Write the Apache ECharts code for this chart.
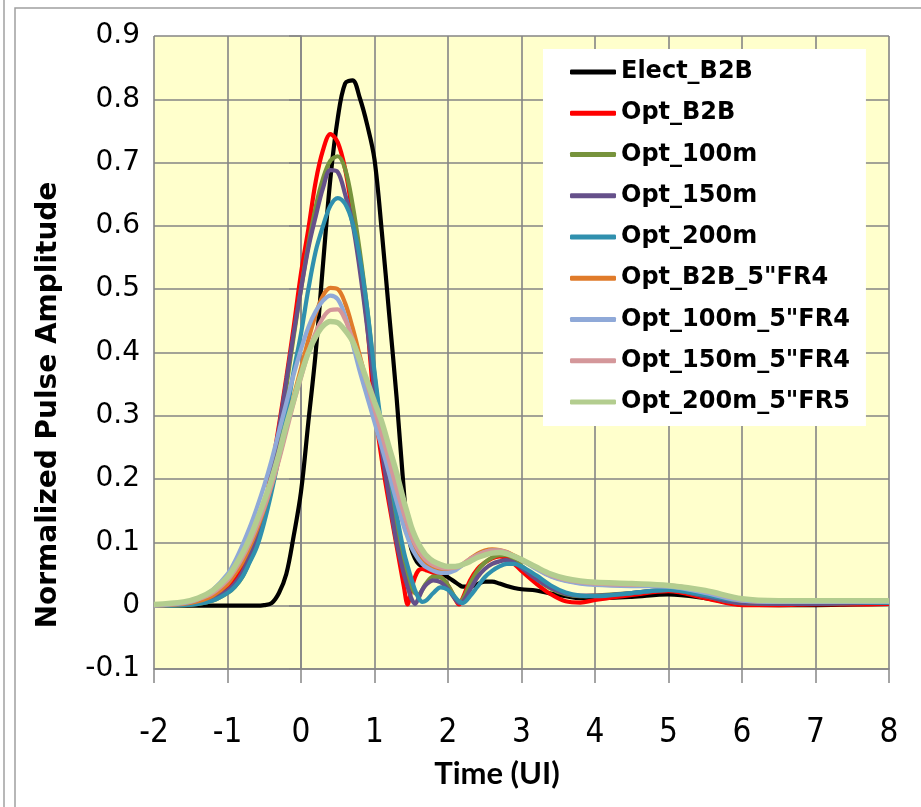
<!DOCTYPE html>
<html><head><meta charset="utf-8">
<script src="https://cdn.jsdelivr.net/npm/echarts@6/dist/echarts.min.js"></script>
<style>html,body{margin:0;padding:0;background:#fff}#c{width:921px;height:807px}</style>
</head><body><div id="c"></div>
<script>
const time = [-2,-1.6,-1.4,-1.2,-1.0,-0.9,-0.8,-0.7,-0.6,-0.5,-0.4,-0.3,-0.2,-0.1,
  0,0.1,0.2,0.3,0.4,0.5,0.6,0.7,0.8,0.9,1.0,1.1,1.2,1.3,1.4,
  1.45,1.5,1.55,1.6,1.65,1.7, 1.8,1.9,2.0,2.1, 2.15,
  2.2,2.3,2.4,2.5,2.6,2.7,2.8,2.9,3.0, 3.2,3.4,3.6,3.8,4.0, 4.5,5.0,5.5,6.0,6.5,7.0,7.5,8.0];

const electB2B = [0,0,0,0,0,0,0,0,0,0.001,0.004,0.02,0.05,0.11,
  0.18,0.29,0.40,0.54,0.675,0.77,0.825,0.83,0.802,0.76,0.705,0.59,0.46,0.33,0.18,
  0.12,0.09,0.075,0.066,0.062,0.059, 0.055,0.05,0.045,0.037, 0.033,
  0.03,0.03,0.034,0.038,0.038,0.035,0.031,0.028,0.026, 0.024,0.019,0.015,0.012,0.012,
  0.014,0.018,0.012,0.002,0.001,0.001,0.002,0.003];
const optB2B = [0,0.002,0.005,0.012,0.028,0.04,0.058,0.085,0.11,0.155,0.215,0.285,0.36,0.44,
  0.525,0.595,0.67,0.72,0.745,0.732,0.69,0.62,0.545,0.445,0.315,0.23,0.16,0.095,0.03,
  0.002,0.025,0.045,0.056,0.058,0.056, 0.052,0.046,0.032,0.01, 0.002,
  0.012,0.04,0.058,0.068,0.075,0.078,0.075,0.066,0.055, 0.035,0.018,0.007,0.005,0.009,
  0.017,0.023,0.012,0.001,0.001,0.002,0.002,0.003];
const opt100m = [0,0.001,0.003,0.008,0.02,0.03,0.045,0.07,0.1,0.145,0.2,0.265,0.345,0.425,
  0.5,0.57,0.63,0.675,0.703,0.71,0.69,0.635,0.56,0.47,0.365,0.265,0.185,0.12,0.068,
  0.047,0.03,0.02,0.018,0.025,0.035, 0.046,0.045,0.032,0.012, 0.006,
  0.01,0.035,0.055,0.068,0.076,0.08,0.08,0.073,0.063, 0.043,0.027,0.018,0.015,0.016,
  0.02,0.025,0.015,0.004,0.003,0.003,0.004,0.005];
const opt150m = [0,0.002,0.004,0.01,0.024,0.035,0.052,0.078,0.11,0.155,0.21,0.28,0.355,0.43,
  0.5,0.565,0.615,0.66,0.688,0.685,0.65,0.605,0.53,0.44,0.34,0.245,0.17,0.1,0.05,
  0.03,0.012,0.003,0.012,0.025,0.033, 0.04,0.037,0.026,0.01, 0.004,
  0.006,0.025,0.045,0.058,0.066,0.07,0.072,0.068,0.06, 0.042,0.028,0.019,0.016,0.016,
  0.02,0.025,0.015,0.004,0.003,0.003,0.004,0.005];
const opt200m = [0,0.001,0.003,0.008,0.02,0.03,0.045,0.068,0.093,0.132,0.18,0.235,0.3,0.37,
  0.43,0.5,0.56,0.6,0.632,0.644,0.635,0.605,0.55,0.47,0.37,0.28,0.215,0.145,0.085,
  0.063,0.043,0.025,0.012,0.006,0.008, 0.02,0.029,0.025,0.013, 0.007,
  0.004,0.015,0.03,0.045,0.055,0.062,0.066,0.066,0.062, 0.048,0.032,0.021,0.016,0.015,
  0.02,0.025,0.017,0.008,0.008,0.009,0.006,0.005];
const optB2B5FR4 = [0,0.003,0.007,0.016,0.034,0.05,0.068,0.092,0.12,0.153,0.19,0.233,0.28,0.33,
  0.375,0.42,0.46,0.49,0.502,0.5,0.478,0.44,0.395,0.35,0.305,0.258,0.212,0.168,0.128,
  0.111,0.097,0.086,0.077,0.07,0.065, 0.058,0.055,0.055,0.058, 0.061,
  0.065,0.074,0.082,0.087,0.089,0.088,0.085,0.079,0.073, 0.059,0.047,0.04,0.036,0.034,
  0.032,0.031,0.021,0.008,0.006,0.007,0.007,0.007];
const opt100m5FR4 = [0,0.004,0.01,0.025,0.05,0.07,0.095,0.123,0.155,0.19,0.23,0.275,0.32,0.365,
  0.405,0.44,0.465,0.482,0.49,0.484,0.458,0.415,0.37,0.33,0.29,0.25,0.208,0.165,0.125,
  0.108,0.093,0.082,0.073,0.066,0.061, 0.055,0.052,0.052,0.056, 0.06,
  0.064,0.073,0.08,0.085,0.087,0.087,0.084,0.078,0.072, 0.058,0.046,0.039,0.035,0.033,
  0.031,0.03,0.02,0.008,0.006,0.006,0.006,0.006];
const opt150m5FR4 = [0.001,0.005,0.01,0.02,0.04,0.056,0.075,0.098,0.125,0.155,0.19,0.23,0.275,0.32,
  0.36,0.4,0.432,0.455,0.467,0.468,0.452,0.422,0.387,0.35,0.31,0.27,0.228,0.185,0.145,
  0.127,0.11,0.097,0.087,0.079,0.072, 0.064,0.06,0.059,0.06, 0.062,
  0.066,0.074,0.08,0.085,0.087,0.087,0.084,0.078,0.072, 0.06,0.048,0.041,0.037,0.035,
  0.033,0.032,0.023,0.01,0.008,0.009,0.008,0.008];
const opt200m5FR5 = [0.002,0.006,0.012,0.024,0.045,0.062,0.082,0.106,0.135,0.166,0.2,0.24,0.285,0.325,
  0.365,0.4,0.425,0.442,0.449,0.447,0.435,0.418,0.388,0.355,0.322,0.29,0.25,0.21,0.165,
  0.145,0.125,0.11,0.098,0.088,0.08, 0.07,0.065,0.062,0.062, 0.063,
  0.065,0.07,0.076,0.08,0.083,0.084,0.082,0.078,0.073, 0.061,0.05,0.043,0.039,0.037,
  0.035,0.032,0.024,0.011,0.008,0.008,0.008,0.008];

const seriesNames = ['Elect_B2B','Opt_B2B','Opt_100m','Opt_150m','Opt_200m',
  'Opt_B2B_5"FR4','Opt_100m_5"FR4','Opt_150m_5"FR4','Opt_200m_5"FR5'];
const seriesValues = [electB2B,optB2B,opt100m,opt150m,opt200m,optB2B5FR4,opt100m5FR4,opt150m5FR4,opt200m5FR5];
const seriesColors = ['#000000','#FF0000','#77933C','#65508A','#3090AE','#E07B2A','#8FA9D8','#D4979A','#B3CD8F'];
const xTicks = {min:-2, max:8, step:1};
const yTicks = {min:-0.1, max:0.9, step:0.1};

const chart = echarts.init(document.getElementById('c'), null, {renderer:'canvas'});
const series = seriesNames.map((name,k)=>({
  name, type:'line', smooth:0.35, symbol:'none', showSymbol:false,
  data: time.map((t,i)=>[t, seriesValues[k][i]]),
  lineStyle:{color:seriesColors[k], width: k===8 ? 5.5 : 4.2},
  itemStyle:{color:seriesColors[k]},
  z: 2 + k
}));

chart.setOption({
  animation:false,
  backgroundColor:'#ffffff',
  grid:{left:154, top:36, right:32, bottom:138, show:true, backgroundColor:'#FFFFCC', borderWidth:0},
  xAxis:{type:'value', min:xTicks.min, max:xTicks.max, interval:xTicks.step,
    axisLine:{onZero:false, lineStyle:{color:'#868686', width:1.5}},
    axisTick:{show:true, length:14, lineStyle:{color:'#868686', width:1.5}},
    axisLabel:{margin:48, color:'#000', fontFamily:'"Liberation Sans Narrow","DejaVu Sans Condensed",sans-serif', fontSize:33},
    splitLine:{show:true, lineStyle:{color:'#858585', width:1.6}}
  },
  yAxis:{type:'value', min:yTicks.min, max:yTicks.max, interval:yTicks.step,
    axisLine:{show:true, lineStyle:{color:'#868686', width:1.5}},
    axisTick:{show:true, length:12, lineStyle:{color:'#868686', width:1.5}},
    axisLabel:{margin:14, color:'#000', fontFamily:'"DejaVu Sans",sans-serif', fontSize:28},
    splitLine:{show:true, lineStyle:{color:'#858585', width:1.6}}
  },
  legend:{
    orient:'vertical', left:543, top:49,
    padding:[9,16,10,27], itemGap:13.25, itemWidth:46, itemHeight:5,
    icon:'roundRect',
    backgroundColor:'#ffffff',
    textStyle:{fontFamily:'"DejaVu Sans", sans-serif', fontWeight:'bold', fontSize:24, color:'#000', lineHeight:28},
    data: seriesNames
  },
  graphic:[
    {type:'line', shape:{x1:4, y1:0, x2:4, y2:807}, style:{stroke:'#a0a0a0', lineWidth:1.5}, silent:true},
    {type:'rect', shape:{x:15, y:8, width:930, height:820}, style:{fill:null, stroke:'#a0a0a0', lineWidth:1.5}, silent:true},
    {type:'text', x:49, y:405, rotation:Math.PI/2, style:{text:'Normalized Pulse Amplitude', fontFamily:'"DejaVu Sans", sans-serif', fontWeight:'bold', fontSize:28, fill:'#000', align:'center', verticalAlign:'middle'}},
    {type:'text', x:497, y:774, style:{text:'Time (UI)', fontFamily:'Lato, sans-serif', fontWeight:'bold', fontSize:31, fill:'#000', align:'center', verticalAlign:'middle'}}
  ],
  series
});
</script></body></html>
